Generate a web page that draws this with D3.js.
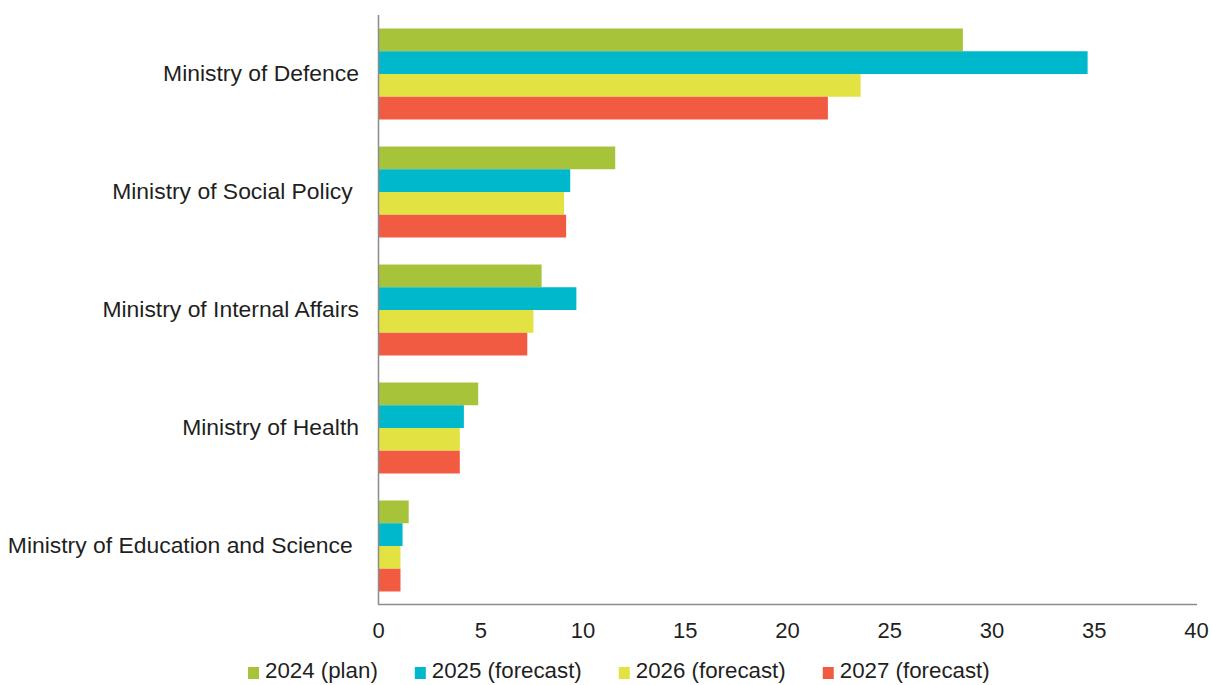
<!DOCTYPE html>
<html>
<head>
<meta charset="utf-8">
<script src="https://cdn.jsdelivr.net/npm/d3@7/dist/d3.min.js"></script>
<style>
  html, body { margin: 0; padding: 0; background: #ffffff; }
  svg { display: block; font-family: "Liberation Sans", Arial, sans-serif; }
  text { white-space: pre; }
</style>
</head>
<body>
<svg id="chart" width="1212" height="685"></svg>
<script>
// Ministries (top to bottom) and expenditure per year
const categories = [
  "Ministry of Defence",
  "Ministry of Social Policy ",
  "Ministry of Internal Affairs",
  "Ministry of Health",
  "Ministry of Education and Science "
];
const seriesNames = ["2024 (plan)", "2025 (forecast)", "2026 (forecast)", "2027 (forecast)"];
const values2024 = [28.6, 11.6, 8.0, 4.9, 1.5];
const values2025 = [34.7, 9.4, 9.7, 4.2, 1.2];
const values2026 = [23.6, 9.1, 7.6, 4.0, 1.1];
const values2027 = [22.0, 9.2, 7.3, 4.0, 1.1];
const xTicks = [0, 5, 10, 15, 20, 25, 30, 35, 40];
const colors = ["#a6c339", "#00b8cc", "#e2e243", "#f05b42"];

const series = [values2024, values2025, values2026, values2027];

const svg = d3.select("#chart");
const plot = { left: 378, right: 1196, top: 15, bottom: 605 };

const x = d3.scaleLinear().domain([0, 40]).range([plot.left, plot.right]);
const y = d3.scaleBand().domain(categories).range([plot.top, plot.bottom])
  .paddingInner(0.229).paddingOuter(0.1145);
const ySub = d3.scaleBand().domain(d3.range(seriesNames.length)).range([0, y.bandwidth()]);

// Bars
categories.forEach((cat, ci) => {
  const g = svg.append("g").attr("transform", `translate(0,${y(cat)})`);
  series.forEach((vals, si) => {
    g.append("rect")
      .attr("x", x(0) + 1)
      .attr("y", ySub(si))
      .attr("width", x(vals[ci]) - x(0) - 1)
      .attr("height", ySub.bandwidth())
      .attr("fill", colors[si]);
  });
});

// Axis lines
svg.append("line")
  .attr("x1", x(0) + 0.5).attr("x2", x(0) + 0.5)
  .attr("y1", plot.top).attr("y2", plot.bottom - 0.5)
  .attr("stroke", "#8c8c8c").attr("stroke-width", 1.5);
svg.append("line")
  .attr("x1", x(0)).attr("x2", x(40) + 1)
  .attr("y1", plot.bottom - 0.5).attr("y2", plot.bottom - 0.5)
  .attr("stroke", "#8c8c8c").attr("stroke-width", 1.5);

// X axis tick labels
const xAxis = d3.axisBottom(x).tickValues(xTicks).tickSize(0).tickPadding(0).tickFormat(d3.format("d"));
const xg = svg.append("g").attr("transform", `translate(0,${plot.bottom})`).call(xAxis);
xg.select(".domain").remove();
xg.selectAll("text")
  .attr("y", 33).attr("dy", null)
  .attr("font-size", 22).attr("fill", "#1f1f1f")
  .attr("font-family", "'Liberation Sans', Arial, sans-serif");

// Category labels
const yAxis = d3.axisLeft(y).tickSize(0).tickPadding(0);
const yg = svg.append("g").attr("transform", `translate(359,0)`).call(yAxis);
yg.select(".domain").remove();
yg.selectAll("text")
  .attr("x", 0).attr("dy", "0.32em")
  .attr("font-size", 22.9).attr("fill", "#1f1f1f")
  .attr("font-family", "'Liberation Sans', Arial, sans-serif")
  .style("white-space", "pre");

// Legend
const legend = svg.append("g").attr("transform", "translate(248,678)");
let lx = 0;
seriesNames.forEach((name, i) => {
  legend.append("rect")
    .attr("x", lx).attr("y", -11)
    .attr("width", 11).attr("height", 12)
    .attr("fill", colors[i]);
  const t = legend.append("text")
    .attr("x", lx + 17).attr("y", 0)
    .attr("font-size", 22.3).attr("fill", "#1f1f1f")
    .text(name);
  lx += 17 + t.node().getComputedTextLength() + 37;
});
</script>
</body>
</html>
